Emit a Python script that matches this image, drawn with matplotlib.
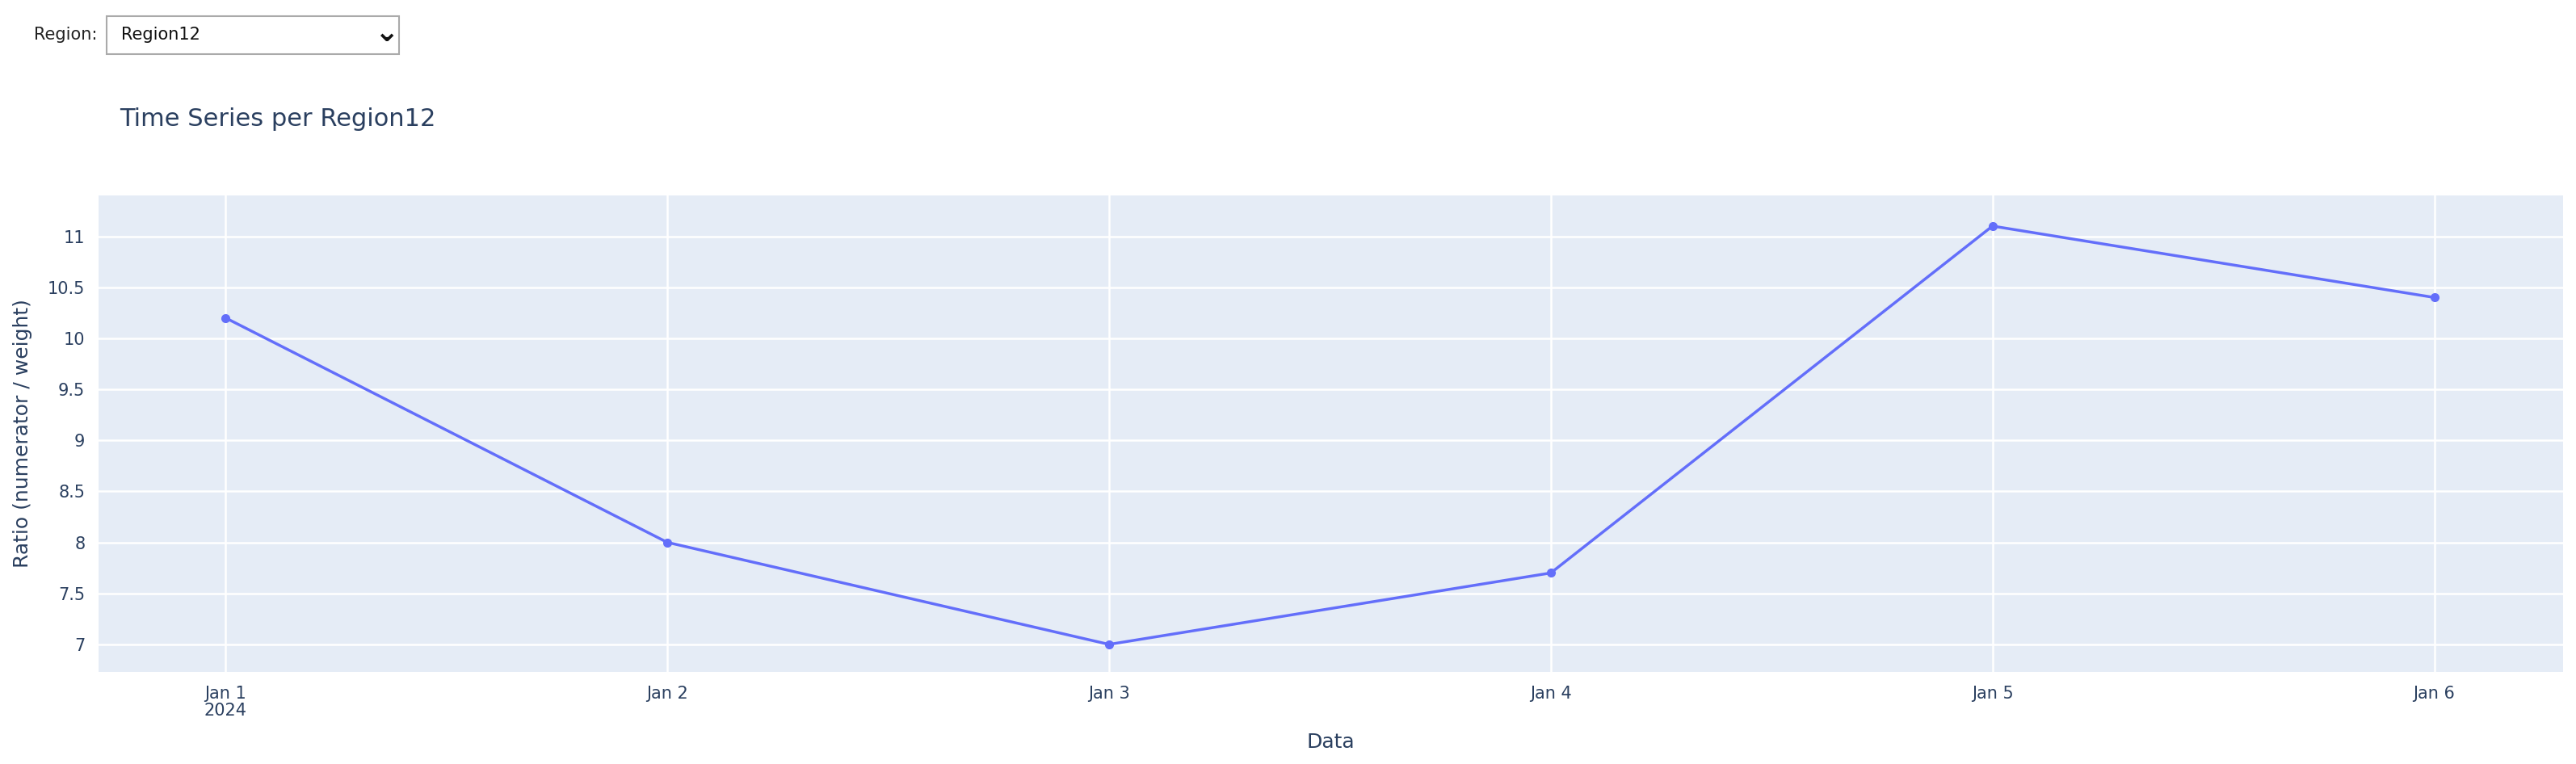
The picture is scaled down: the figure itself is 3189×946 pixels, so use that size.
import matplotlib
matplotlib.use("Agg")
import matplotlib.pyplot as plt
from matplotlib.patches import Rectangle
import datetime as dt

dates = [dt.datetime(2024, 1, d) for d in range(1, 7)]
values = [10.2, 8.0, 7.0, 7.7, 11.1, 10.4]
yticks = [7, 7.5, 8, 8.5, 9, 9.5, 10, 10.5, 11]
ytick_labels = ["7", "7.5", "8", "8.5", "9", "9.5", "10", "10.5", "11"]
xtick_labels = ["Jan 1\n2024", "Jan 2", "Jan 3", "Jan 4", "Jan 5", "Jan 6"]

TXT = "#2a3f5f"
W, H = 3189, 946
fig = plt.figure(figsize=(W/100, H/100), dpi=100)
ax = fig.add_axes([122/W, 1-832/H, (3173-122)/W, (832-242)/H])
ax.set_facecolor("#E5ECF6")
ax.plot(dates, values, color="#636efa", lw=2.5, marker="o", ms=7, zorder=3)
ax.set_ylim(6.73, 11.4)
ax.set_xlim(dates[0] - dt.timedelta(hours=6.9), dates[-1] + dt.timedelta(hours=7.0))
ax.set_yticks(yticks)
ax.set_yticklabels(ytick_labels)
ax.set_xticks(dates)
ax.set_xticklabels(xtick_labels, linespacing=1.1)
ax.grid(True, color="white", lw=1.8)
ax.set_axisbelow(True)
for s in ax.spines.values():
    s.set_visible(False)
ax.tick_params(length=0, labelsize=15, colors=TXT, pad=12)
ax.set_xlabel("Data", fontsize=18, color=TXT, labelpad=12)
ax.set_ylabel("Ratio (numerator / weight)", fontsize=18, color=TXT, labelpad=14)

fig.text(148/W, 1-148/H, "Time Series per Region12", fontsize=22, color=TXT, va="center")
fig.text(42/W, 1-43/H, "Region:", fontsize=15, color="#222222", va="center")
fig.patches.append(Rectangle((132/W, 1-67/H), 362/W, 47/H, transform=fig.transFigure,
                             facecolor="white", edgecolor="#aaaaaa", lw=1.5))
fig.text(150/W, 1-43/H, "Region12", fontsize=15, color="#111111", va="center")
fig.text(478/W, 1-41/H, "⌄", fontsize=26, color="#111111", va="center", ha="center", weight="bold")
fig.savefig("out.png", dpi=100, facecolor="white")
